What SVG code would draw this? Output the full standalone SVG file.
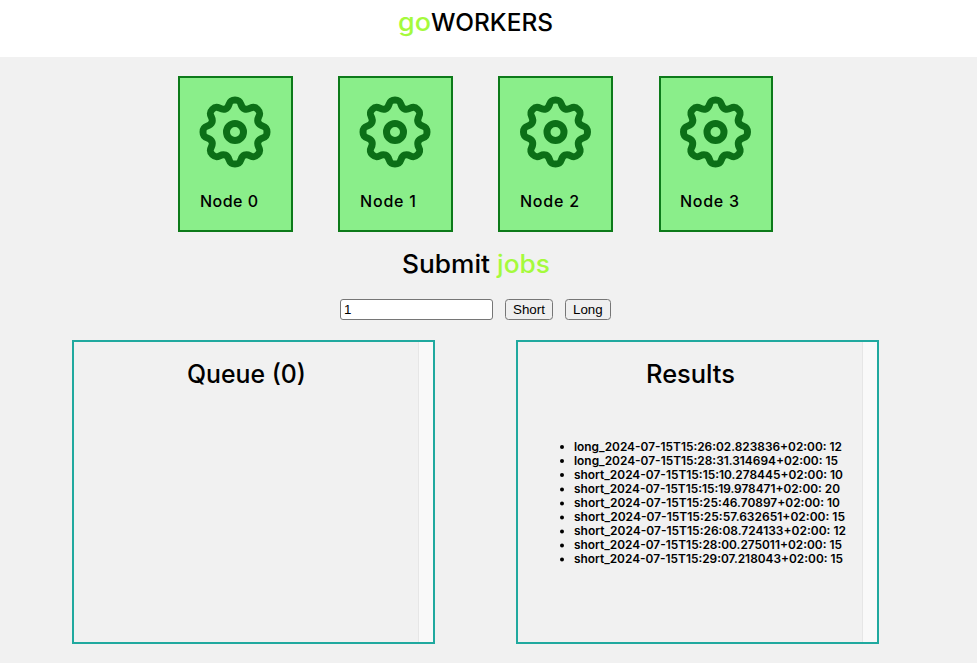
<svg xmlns="http://www.w3.org/2000/svg" xmlns:xlink="http://www.w3.org/1999/xlink" width="977" height="663" viewBox="0 0 977 663">
<style>
text{font-family:"Inter","Noto Sans","Liberation Sans",sans-serif;fill:#000}
text.lime{fill:#a5fa3c}
.box{fill:#8aee8a;stroke:#0d7a1a;stroke-width:2}
.gear{fill:none;stroke:#0c6f17;stroke-width:7;stroke-linejoin:round}
.hub{fill:none;stroke:#0c6f17;stroke-width:7}
.lbl{font-size:16px;font-weight:500}
.panel{fill:#f1f1f1;stroke:#20a99f;stroke-width:2}
.sb{fill:#f9f9f9}
.sbl{stroke:#e6e6e6;stroke-width:1}
.h{font-size:25px;font-weight:500}
.ctl{fill:#efefef;stroke:#767676;stroke-width:1}
text.ctxt{font-family:"Liberation Sans",Arial,sans-serif;font-size:13.33px}
.it{font-size:11.500px;font-weight:600}
</style>
<defs>
<path id="gearShape" class="gear" d="M0,-32C8,-32 4.03,-25.4 9.57,-23.1C15.11,-20.8 16.97,-28.29 22.63,-22.63C28.29,-16.97 20.8,-15.11 23.1,-9.57C25.4,-4.03 32,-8 32,0C32,8 25.4,4.03 23.1,9.57C20.8,15.11 28.29,16.97 22.63,22.63C16.97,28.29 15.11,20.8 9.57,23.1C4.03,25.4 8,32 0,32C-8,32 -4.03,25.4 -9.57,23.1C-15.11,20.8 -16.97,28.29 -22.63,22.63C-28.29,16.97 -20.8,15.11 -23.1,9.57C-25.4,4.03 -32,8 -32,0C-32,-8 -25.4,-4.03 -23.1,-9.57C-20.8,-15.11 -28.29,-16.97 -22.63,-22.63C-16.97,-28.29 -15.11,-20.8 -9.57,-23.1C-4.03,-25.4 -8,-32 0,-32Z"/>
</defs>
<rect width="977" height="663" fill="#f1f1f1"/>
<rect id="header" width="977" height="57" fill="#fff"/>
<g id="title">
<text class="lime" x="398" y="31" font-size="25" font-weight="500" textLength="33" lengthAdjust="spacingAndGlyphs">go</text>
<text x="431" y="31" font-size="24" font-weight="500" textLength="122" lengthAdjust="spacingAndGlyphs">WORKERS</text>
</g>

<g id="connectors"></g>

<g id="node0">
<rect class="box" x="179" y="77" width="113" height="154"/>
<use xlink:href="#gearShape" href="#gearShape" x="235" y="132"/>
<circle class="hub" cx="235" cy="132" r="8.5"/>
<text class="lbl" x="200" y="207" textLength="58" lengthAdjust="spacing">Node 0</text>
</g>
<g id="node1">
<rect class="box" x="339" y="77" width="113" height="154"/>
<use xlink:href="#gearShape" href="#gearShape" x="395" y="132"/>
<circle class="hub" cx="395" cy="132" r="8.5"/>
<text class="lbl" x="360" y="207" textLength="56" lengthAdjust="spacing">Node 1</text>
</g>
<g id="node2">
<rect class="box" x="499" y="77" width="113" height="154"/>
<use xlink:href="#gearShape" href="#gearShape" x="555.500" y="132"/>
<circle class="hub" cx="555.500" cy="132" r="8.5"/>
<text class="lbl" x="520" y="207" textLength="59" lengthAdjust="spacing">Node 2</text>
</g>
<g id="node3">
<rect class="box" x="660" y="77" width="112" height="154"/>
<use xlink:href="#gearShape" href="#gearShape" x="715.500" y="132"/>
<circle class="hub" cx="715.500" cy="132" r="8.5"/>
<text class="lbl" x="680" y="207" textLength="59" lengthAdjust="spacing">Node 3</text>
</g>

<g id="submit">
<text class="h" x="402" y="273" textLength="88" lengthAdjust="spacingAndGlyphs">Submit</text>
<text class="h lime" x="497" y="273" textLength="53" lengthAdjust="spacingAndGlyphs">jobs</text>
</g>

<g id="controls">
<rect x="340.500" y="299.500" width="152" height="20" rx="2.500" fill="#fff" stroke="#767676"/>
<text class="ctxt" x="344" y="314">1</text>
<rect class="ctl" x="505.500" y="299.500" width="47" height="20" rx="3"/>
<text class="ctxt" x="513" y="314">Short</text>
<rect class="ctl" x="565.500" y="299.500" width="45" height="20" rx="3"/>
<text class="ctxt" x="573" y="314">Long</text>
</g>

<g id="queue">
<rect class="panel" x="73" y="341" width="361" height="302"/>
<rect class="sb" x="419" y="342" width="14" height="300"/>
<line class="sbl" x1="418.500" y1="342" x2="418.500" y2="642"/>
<text class="h" x="187" y="383" textLength="119" lengthAdjust="spacingAndGlyphs">Queue (0)</text>
</g>

<g id="results">
<rect class="panel" x="517" y="341" width="361" height="302"/>
<rect class="sb" x="863" y="342" width="14" height="300"/>
<line class="sbl" x1="862.500" y1="342" x2="862.500" y2="642"/>
<text class="h" x="646" y="383" textLength="89" lengthAdjust="spacingAndGlyphs">Results</text>
<g fill="#000">
<circle cx="562" cy="447" r="2"/><circle cx="562" cy="461" r="2"/><circle cx="562" cy="475" r="2"/><circle cx="562" cy="489.500" r="2"/><circle cx="562" cy="503.500" r="2"/><circle cx="562" cy="517.500" r="2"/><circle cx="562" cy="531.500" r="2"/><circle cx="562" cy="545.500" r="2"/><circle cx="562" cy="559.500" r="2"/>
</g>
<text class="it" x="574" y="451" textLength="268" lengthAdjust="spacingAndGlyphs">long_2024-07-15T15:26:02.823836+02:00: 12</text>
<text class="it" x="574" y="465" textLength="264" lengthAdjust="spacingAndGlyphs">long_2024-07-15T15:28:31.314694+02:00: 15</text>
<text class="it" x="574" y="479" textLength="269" lengthAdjust="spacingAndGlyphs">short_2024-07-15T15:15:10.278445+02:00: 10</text>
<text class="it" x="574" y="493" textLength="266" lengthAdjust="spacingAndGlyphs">short_2024-07-15T15:15:19.978471+02:00: 20</text>
<text class="it" x="574" y="507" textLength="266" lengthAdjust="spacingAndGlyphs">short_2024-07-15T15:25:46.70897+02:00: 10</text>
<text class="it" x="574" y="521" textLength="271" lengthAdjust="spacingAndGlyphs">short_2024-07-15T15:25:57.632651+02:00: 15</text>
<text class="it" x="574" y="535" textLength="272" lengthAdjust="spacingAndGlyphs">short_2024-07-15T15:26:08.724133+02:00: 12</text>
<text class="it" x="574" y="549" textLength="268" lengthAdjust="spacingAndGlyphs">short_2024-07-15T15:28:00.275011+02:00: 15</text>
<text class="it" x="574" y="563" textLength="269" lengthAdjust="spacingAndGlyphs">short_2024-07-15T15:29:07.218043+02:00: 15</text>
</g>
</svg>
